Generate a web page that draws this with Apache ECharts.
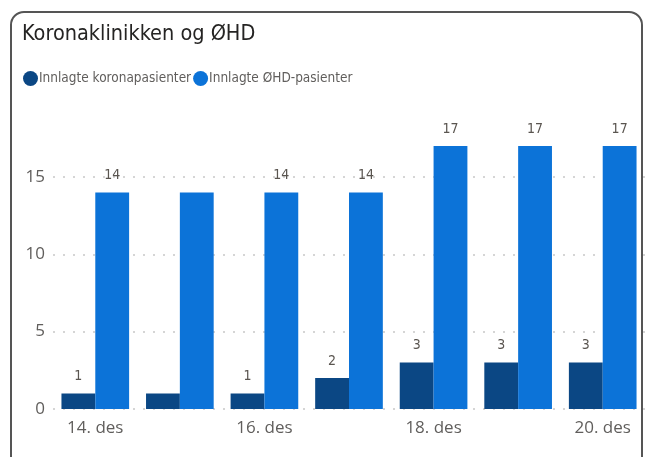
<!DOCTYPE html>
<html>
<head>
<meta charset="utf-8">
<script src="https://cdn.jsdelivr.net/npm/echarts@6/dist/echarts.min.js"></script>
<style>
  body { margin: 0; background: #fff; }
  #ramme {
    position: absolute; left: 10px; top: 11px; width: 633px; height: 470px;
    border: 2px solid #555; border-radius: 14px; box-sizing: border-box;
  }
  #chart { position: absolute; left: 0; top: 0; width: 654px; height: 457px; }
</style>
</head>
<body>
<div id="ramme"></div>
<div id="chart"></div>
<script>
const dager = ['14. des', '15. des', '16. des', '17. des', '18. des', '19. des', '20. des']
const korona = [1, 1, 1, 2, 3, 3, 3]
const ohd = [14, 14, 14, 14, 17, 17, 17]
// Power BI skjuler noen etiketter, her 15. des
const skjulteEtiketter = [1]

const chart = echarts.init(document.getElementById('chart'))

function lagData(verdier) {
  return verdier.map(function (v, i) {
    return { value: v, label: { show: skjulteEtiketter.indexOf(i) < 0 } }
  })
}

const smal = '"Liberation Sans Narrow", "DejaVu Sans Condensed", "Noto Sans"'

const etikett = {
  show: true,
  position: 'top',
  distance: 10,
  color: '#5a5550',
  fontSize: 14,
  fontFamily: smal
}

const option = {
  title: {
    text: 'Koronaklinikken og ØHD',
    left: 17,
    top: 18,
    textStyle: { fontSize: 21.5, fontWeight: 'normal', color: '#252423', fontFamily: smal }
  },
  legend: {
    left: 18,
    top: 66,
    icon: 'circle',
    itemWidth: 15,
    itemHeight: 15,
    itemGap: 2,
    textStyle: { fontSize: 13.5, color: '#605E5C', fontFamily: smal, padding: [0, 0, 0, -4] },
    data: ['Innlagte koronapasienter', 'Innlagte ØHD-pasienter']
  },
  grid: { left: 53, right: 9, top: 146, bottom: 48 },
  xAxis: {
    type: 'category',
    data: dager,
    axisLine: { show: false },
    axisTick: { show: false },
    axisLabel: { interval: 1, fontSize: 17, color: '#605E5C', margin: 11, fontFamily: 'Open Sans' }
  },
  yAxis: {
    type: 'value',
    min: 0,
    max: 17,
    interval: 5,
    axisLabel: { fontSize: 17, color: '#605E5C', margin: 8, showMaxLabel: false, fontFamily: 'Open Sans' },
    splitLine: { showMaxLine: false, lineStyle: { type: [2, 8], color: '#c8c8c8', width: 1.5 } }
  },
  series: [
    {
      name: 'Innlagte koronapasienter',
      type: 'bar',
      barGap: '0%',
      barCategoryGap: '20%',
      itemStyle: { color: '#0B4784' },
      label: etikett,
      data: lagData(korona)
    },
    {
      name: 'Innlagte ØHD-pasienter',
      type: 'bar',
      barCategoryGap: '20%',
      itemStyle: { color: '#0C73D8' },
      label: etikett,
      data: lagData(ohd)
    }
  ]
}
chart.setOption(option)
</script>
</body>
</html>
